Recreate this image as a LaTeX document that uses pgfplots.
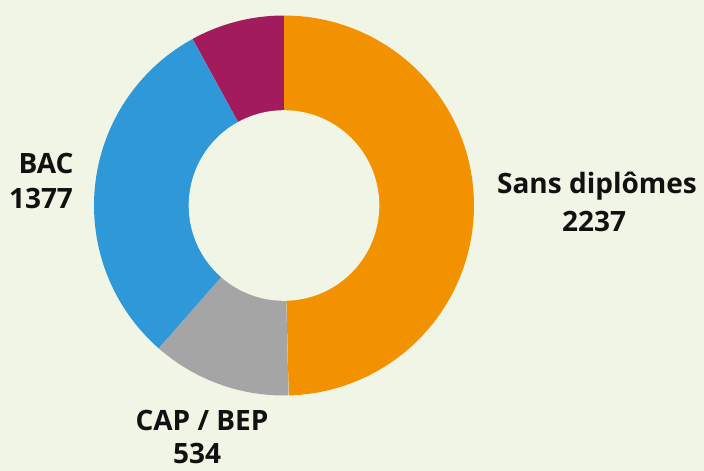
\documentclass[border=0pt]{standalone}
\usepackage{fontspec}
\setmainfont{Open Sans}
\usepackage{pgfplots}
\pgfplotsset{compat=1.18}
\definecolor{bg}{RGB}{241,245,230}
\definecolor{cOrange}{RGB}{242,146,0}
\definecolor{cGray}{RGB}{165,165,165}
\definecolor{cBlue}{RGB}{46,152,216}
\definecolor{cPurple}{RGB}{162,27,92}
\definecolor{txt}{RGB}{17,17,17}
% data: Sans diplomes, CAP/BEP, BAC, autre (unlabelled)
\def\vA{2237}
\def\vB{534}
\def\vC{1377}
\def\vD{360}
\def\cx{284}
\def\cy{205.5}
\def\Ro{190}
\def\Ri{95.3}
\newcommand{\slice}[3]{% start angle, end angle, colour (clockwise from top)
  \addplot[fill=#3, draw=none, variable=\t, samples at={-1,0,0.01,...,1}]
    ({\cx + ((\t<0) ? 0 : \Ro)*sin(#1+(#2-#1)*max(\t,0))},
     {\cy - ((\t<0) ? 0 : \Ro)*cos(#1+(#2-#1)*max(\t,0))});
}
\begin{document}
\begin{tikzpicture}
\pgfmathsetmacro{\tot}{(\vA+\vB+\vC+\vD)/1000}
\pgfmathsetmacro{\aA}{0.36*\vA/\tot}
\pgfmathsetmacro{\aB}{\aA+0.36*\vB/\tot}
\pgfmathsetmacro{\aC}{\aB+0.36*\vC/\tot}
\begin{axis}[hide axis, scale only axis, width=704pt, height=471pt,
  xmin=0, xmax=704, ymin=0, ymax=471, y dir=reverse, clip=false]
\fill[bg] (axis cs:0,0) rectangle (axis cs:704,471);
\slice{0}{\aA}{cOrange}
\slice{\aA}{\aB}{cGray}
\slice{\aB}{\aC}{cBlue}
\slice{\aC}{360}{cPurple}
\addplot[fill=bg, draw=none, domain=0:360, samples=180, variable=\t]
  ({\cx+\Ri*sin(\t)},{\cy-\Ri*cos(\t)});
\begin{scope}[every node/.style={font=\fontsize{28}{32}\selectfont\bfseries, text=txt, anchor=base, inner sep=0pt}]
\node at (axis cs:597,193) {Sans diplômes};
\node at (axis cs:594,231.5) {2237};
\node at (axis cs:46,173) {BAC};
\node at (axis cs:41,208) {1377};
\node at (axis cs:202,430) {CAP / BEP};
\node at (axis cs:197,463) {534};
\end{scope}
\end{axis}
\end{tikzpicture}
\end{document}
